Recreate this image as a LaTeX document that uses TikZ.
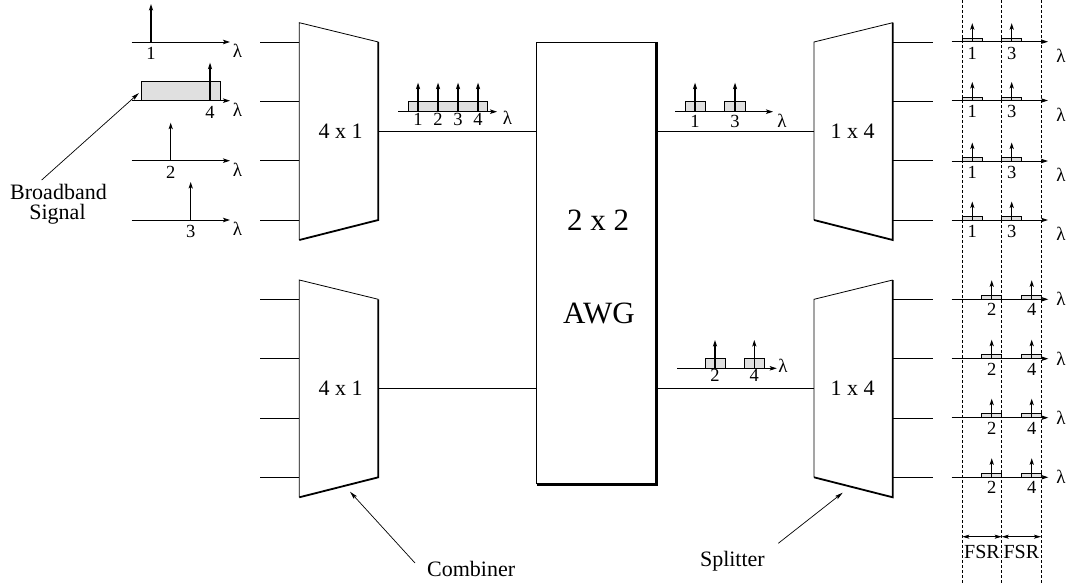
\documentclass[tikz,border=0pt]{standalone}
\usepackage{fontspec}
\setmainfont{Liberation Serif}
\usetikzlibrary{arrows.meta}
\begin{document}
\begin{tikzpicture}[x=1pt,y=-1pt,
  ln/.style={line width=0.8pt},
  thk/.style={line width=1.8pt},
  awgthk/.style={line width=3pt},
  axisarr/.style={line width=0.9pt,-{Stealth[length=7pt,width=4.5pt,inset=1.5pt]}},
  spike/.style={line width=1.1pt,-{Stealth[length=6.5pt,width=4.2pt,inset=1.5pt]}},
  band/.style={draw,line width=0.8pt,fill=black!12},
  lbl/.style={font=\fontsize{18.5}{20}\selectfont,inner sep=0pt},
  lam/.style={font=\fontsize{19}{20}\selectfont,inner sep=0pt},
  big/.style={font=\fontsize{22}{24}\selectfont,inner sep=0pt},
  huge/.style={font=\fontsize{31}{34}\selectfont,inner sep=0pt},
  fsrarr/.style={line width=0.8pt,{Stealth[length=7pt,width=4pt,inset=1.5pt]}-{Stealth[length=7pt,width=4pt,inset=1.5pt]}},
  pointer/.style={line width=0.7pt,-{Stealth[length=8pt,width=4pt,inset=1.5pt]}},
  dsh/.style={line width=0.7pt,dash pattern=on 3pt off 2pt},
]
\useasboundingbox (0,0) rectangle (1070,585);

% ---------- AWG ----------
\coordinate (awgtl) at (536.7,42);
\coordinate (awgtr) at (656,42);
\coordinate (awgbr) at (656,484);
\coordinate (awgbl) at (536.7,484);
\draw[ln] (awgbl) -- (awgtl) -- (awgtr);
\draw[awgthk] (awgtr) -- (awgbr) -- (awgbl);
\node[huge] (awg1) at (598,220) {2 x 2};
\node[huge] (awg2) at (599,313) {AWG};

% ---------- combiners and splitters ----------
\foreach \o/\n/\mid in {0/1/131, 257.3/2/388.3}{
  % combiner
  \coordinate (c\n tl) at (299.3,22.7+\o);
  \coordinate (c\n tr) at (378.3,42+\o);
  \coordinate (c\n br) at (378.3,220+\o);
  \coordinate (c\n bl) at (299.3,240+\o);
  \draw[ln] (c\n bl) -- (c\n tl) -- (c\n tr);
  \draw[thk] (c\n tr) -- (c\n br) -- (c\n bl);
  \node[big] (c\n lab) at (340.5,\mid) {4 x 1};
  % splitter
  \coordinate (s\n tl) at (814,42+\o);
  \coordinate (s\n tr) at (892.7,22.7+\o);
  \coordinate (s\n br) at (892.7,240+\o);
  \coordinate (s\n bl) at (814,220+\o);
  \draw[ln] (s\n bl) -- (s\n tl) -- (s\n tr);
  \draw[thk] (s\n tr) -- (s\n br) -- (s\n bl);
  \node[big] (s\n lab) at (852.5,\mid) {1 x 4};
  % links
  \coordinate (c\n out) at (378.3,\mid);
  \coordinate (awgin\n) at (536.7,\mid);
  \coordinate (awgout\n) at (656,\mid);
  \coordinate (s\n in) at (814,\mid);
  \draw[ln] (c\n out) -- (awgin\n);
  \draw[ln] (awgout\n) -- (s\n in);
  % input / output stubs
  \foreach \r [count=\k] in {42,101.3,160.7,220}{
    \coordinate (c\n i\k) at (299.3,\r+\o);
    \coordinate (c\n f\k) at (260,\r+\o);
    \draw[ln] (c\n f\k) -- (c\n i\k);
    \coordinate (s\n o\k) at (892.7,\r+\o);
    \coordinate (s\n f\k) at (933,\r+\o);
    \draw[ln] (s\n o\k) -- (s\n f\k);
  }
}

% ---------- input spectra (left) ----------
\draw[band] (141,81.7) rectangle (220,100.7);
\foreach \r/\sx/\lab in {42/151/1, 100.7/210/4, 160.7/170.7/2, 220/190.7/3}{
  \draw[axisarr] (131.7,\r) -- (230,\r);
  \draw[spike] (\sx,\r) -- (\sx,\r-38);
  \node[lbl,anchor=north] at (\sx,\r+5.5) {\lab};
  \node[lam] at (237.5,\r+9) {λ};
}
\node[big,anchor=base] (bb1) at (58.5,200) {Broadband};
\node[big,anchor=base] (bb2) at (57.5,220) {Signal};
\coordinate (bbtail) at (41.7,180);
\coordinate (bbtip) at (139,93);
\draw[pointer] (bbtail) -- (bbtip);

% ---------- combined spectrum (middle top left) ----------
\draw[band] (408,101.7) rectangle (487,111.7);
\draw[axisarr] (398,111.7) -- (497,111.7);
\foreach \sx/\lab in {418/1,438/2,458/3,478/4}{
  \draw[spike] (\sx,111.7) -- (\sx,82.7);
  \node[lbl,anchor=north] at (\sx,113.5) {\lab};
}
\node[lam] at (507.5,118) {λ};

% ---------- AWG output spectra ----------
\draw[band] (685,101.7) rectangle (705.5,111.7);
\draw[band] (724.5,101.7) rectangle (745,111.7);
\draw[axisarr] (675,111.7) -- (773,111.7);
\foreach \sx/\lab in {695/1,735/3}{
  \draw[spike] (\sx,111.7) -- (\sx,82.7);
  \node[lbl,anchor=north] at (\sx,115.5) {\lab};
}
\node[lam] at (782,121) {λ};

\draw[band] (705,358.3) rectangle (725,368.3);
\draw[band] (744.3,358.3) rectangle (764.3,368.3);
\draw[axisarr] (677,368.3) -- (776.7,368.3);
\foreach \sx/\lab in {715/2,754.3/4}{
  \draw[spike] (\sx,368.3) -- (\sx,340);
  \node[lbl,anchor=north] at (\sx,369.5) {\lab};
}
\node[lam] at (783,366) {λ};

% ---------- output spectra (right) ----------
\foreach \r in {41.7,100.5,161,220}{
  \draw[band] (962.3,\r-3.5) rectangle (982.3,\r);
  \draw[band] (1001.7,\r-3.5) rectangle (1021.7,\r);
  \draw[axisarr] (951.7,\r) -- (1048,\r);
  \draw[spike] (972.3,\r) -- (972.3,\r-18.5);
  \draw[spike] (1011.7,\r) -- (1011.7,\r-18.5);
  \node[lbl,anchor=north] at (972.3,\r+5) {1};
  \node[lbl,anchor=north] at (1011.7,\r+5) {3};
  \node[lam] at (1061,\r+14) {λ};
}
\foreach \r in {299.3,358.7,417.7,477.3}{
  \draw[band] (981.7,\r-4) rectangle (1001.7,\r);
  \draw[band] (1021.7,\r-4) rectangle (1041.7,\r);
  \draw[axisarr] (951.7,\r) -- (1048.3,\r);
  \draw[spike] (991.7,\r) -- (991.7,\r-19);
  \draw[spike] (1031.7,\r) -- (1031.7,\r-19);
  \node[lbl,anchor=north] at (991.7,\r+4) {2};
  \node[lbl,anchor=north] at (1031.7,\r+4) {4};
  \node[lam] at (1061,\r) {λ};
}

% ---------- FSR ----------
\foreach \x [count=\k] in {962.3,1001.7,1041}{
  \coordinate (d\k t) at (\x,0);
  \coordinate (d\k b) at (\x,585);
  \coordinate (d\k m) at (\x,536.7);
  \draw[dsh] (d\k t) -- (d\k b);
}
\draw[fsrarr] (d1m) -- (d2m);
\draw[fsrarr] (d2m) -- (d3m);
\node[font=\fontsize{20}{22}\selectfont,inner sep=0pt,anchor=north] (fsr1) at (982,545) {FSR};
\node[font=\fontsize{20}{22}\selectfont,inner sep=0pt,anchor=north] (fsr2) at (1021.4,545) {FSR};

% ---------- Combiner / Splitter labels ----------
\node[big,anchor=base west] (comb) at (427,576) {Combiner};
\coordinate (combtail) at (415,563);
\coordinate (combtip) at (350,491.7);
\draw[pointer] (combtail) -- (combtip);

\node[big,anchor=base east] (split) at (765,566) {Splitter};
\coordinate (splittail) at (778.3,543.3);
\coordinate (splittip) at (842.7,492.7);
\draw[pointer] (splittail) -- (splittip);
\end{tikzpicture}
\end{document}
